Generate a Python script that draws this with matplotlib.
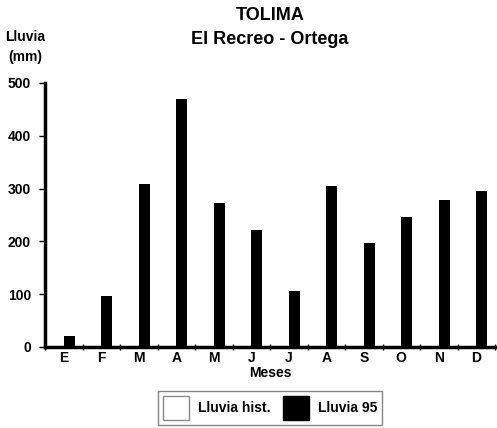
import matplotlib
matplotlib.use("Agg")
import matplotlib.pyplot as plt
from matplotlib.patches import Patch
import numpy as np

plt.rcParams["font.family"] = ["Liberation Sans", "DejaVu Sans"]
plt.rcParams["font.weight"] = "bold"

# ── Datos ──
meses = ["E", "F", "M", "A", "M", "J", "J", "A", "S", "O", "N", "D"]
lluvia_95 = [21, 97, 308, 469, 273, 222, 106, 304, 197, 246, 278, 295]
# la serie histórica aparece en blanco (sin valores legibles)

x = np.arange(len(meses))
width = 0.29

fig = plt.figure(figsize=(4.97, 4.28), dpi=100)
ax = fig.add_axes([45 / 497, 1 - 347 / 428, 450 / 497, 264 / 428])

ax.bar(x, lluvia_95, width, align="edge", color="black", label="Lluvia 95")

ax.set_xlim(-0.5, len(meses) - 0.5)
ax.set_ylim(0, 500)
ax.set_yticks([0, 100, 200, 300, 400, 500])
ax.set_xticks(x)
ax.set_xticklabels(meses, fontsize=10, fontweight="bold")
ax.set_xticks(np.arange(-0.5, len(meses), 1), minor=True)
ax.tick_params(axis="x", which="major", length=0, pad=3)
ax.tick_params(axis="x", which="minor", length=5, direction="inout", width=1)
ax.tick_params(axis="y", length=4, width=1, labelsize=10, pad=6)
for lab in ax.get_yticklabels():
    lab.set_fontweight("bold")

for s in ["top", "right"]:
    ax.spines[s].set_visible(False)
ax.spines["left"].set_linewidth(2.5)
ax.spines["bottom"].set_linewidth(2.5)

fig.text(270 / 497, 1 - 16 / 428, "TOLIMA", ha="center", va="center", fontsize=13, fontweight="bold")
fig.text(270 / 497, 1 - 40 / 428, "El Recreo - Ortega", ha="center", va="center", fontsize=13, fontweight="bold")
fig.text(25 / 497, 1 - 37 / 428, "Lluvia", ha="center", va="center", fontsize=10, fontweight="bold")
fig.text(25 / 497, 1 - 57 / 428, "(mm)", ha="center", va="center", fontsize=10, fontweight="bold")
fig.text(270 / 497, 1 - 373 / 428, "Meses", ha="center", va="center", fontsize=10, fontweight="bold")

handles = [Patch(facecolor="white", edgecolor="#888888", label="Lluvia hist."),
           Patch(facecolor="black", edgecolor="black", label="Lluvia 95")]
leg = fig.legend(handles=handles, loc="center", bbox_to_anchor=(270 / 497, 1 - 408 / 428),
                 ncol=2, fontsize=10, frameon=True, fancybox=False, handlelength=1.9,
                 handleheight=2.3, columnspacing=0.9, handletextpad=0.6, borderpad=0.35)
leg.get_frame().set_edgecolor("#666666")
leg.get_frame().set_linewidth(1)
for t in leg.get_texts():
    t.set_fontweight("bold")

fig.savefig("out.png", dpi=100)
